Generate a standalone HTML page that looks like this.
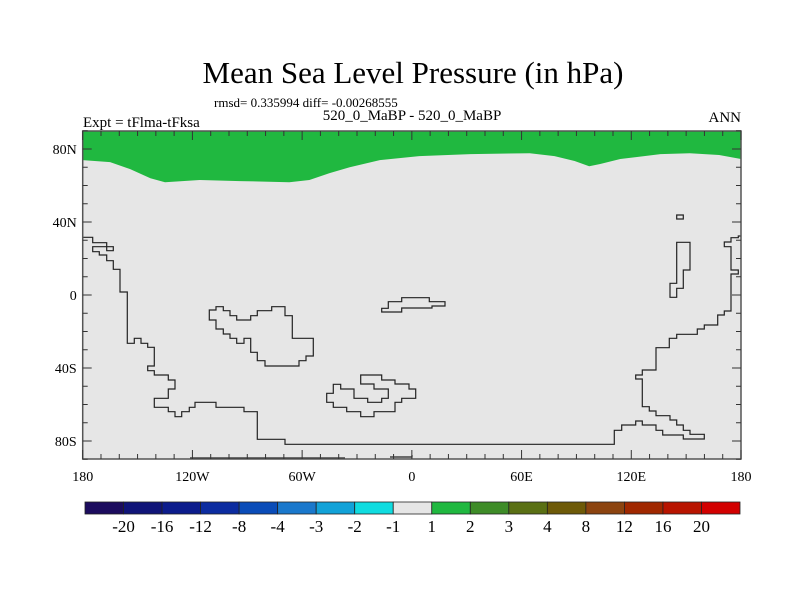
<!DOCTYPE html>
<html><head><meta charset="utf-8"><style>
body{margin:0;background:#fff;}
svg{display:block;font-family:"Liberation Serif",serif;}
</style></head><body>
<svg id="chart" width="800" height="600" viewBox="0 0 800 600">
<text x="413" y="83" font-size="31" text-anchor="middle">Mean Sea Level Pressure (in hPa)</text>
<text x="214" y="107" font-size="13">rmsd= 0.335994 diff= -0.00268555</text>
<text x="412" y="120" font-size="15" text-anchor="middle">520_0_MaBP - 520_0_MaBP</text>
<text x="83" y="127" font-size="15">Expt = tFlma-tFksa</text>
<text x="741" y="122" font-size="15" text-anchor="end">ANN</text>
<g id="map"></g>
<g id="cbar"></g>
</svg>
<script>
const lonPts=[-180,-165,-154,-143,-135,-116,-94,-67,-56,-45,-34,-17.5,4,32,64.5,78,89,97,103,114,136,152,168,180];
const latPts=[73.9,72.8,69,64,61.8,63,62.4,61.8,63,66.8,70,73.9,76.1,77.2,77.7,76.1,73.4,70.6,71.8,74.5,77.2,77.7,76.7,74.5];
const latTicks=[80,40,0,-40,-80];
const latLabels=["80N","40N","0","40S","80S"];
const lonTicks=[-180,-120,-60,0,60,120,180];
const lonLabels=["180","120W","60W","0","60E","120E","180"];
const cbColors=["#1c0c5e","#101478","#0c1c8c","#0c2ca0","#0a4cb8","#1a78cc","#12a2d8","#10dce0","#e6e6e6","#20b840","#3e8c28","#5a7014","#6e5a08","#8c4410","#a02800","#b81400","#d20000"];
const cbLabels=["-20","-16","-12","-8","-4","-3","-2","-1","1","2","3","4","8","12","16","20"];

const NS="http://www.w3.org/2000/svg";
const L=82.7,R=741,T=131,B=459;
const xS=lon=>L+(lon+180)/360*(R-L);
const yS=lat=>295-lat*1.825;
function mk(tag,attrs,parent){const e=document.createElementNS(NS,tag);for(const k in attrs)e.setAttribute(k,attrs[k]);parent.appendChild(e);return e;}
const map=document.getElementById('map');
mk('rect',{x:L,y:T,width:R-L,height:B-T,fill:'#e6e6e6'},map);
let d=`M${L},${T} `;
lonPts.forEach((lo,i)=>{d+=`L${xS(lo).toFixed(1)},${yS(latPts[i]).toFixed(1)} `;});
d+=`L${R},${T} Z`;
const g=mk('path',{d:d,fill:'#20b840'},map);


const coasts=[
"M82.7,237.3 H92.7 V242.7 H106.7 V250.7 H113.3 V246.7 H92.7 V251.7 H99.3 V255 H106.7 V260.7 H113.3 V269.3 H120 V292 H127.3 V343.3 H134.3 V338.3 H141 V343.3 H147.7 V347.3 H154.3 V366 H147.7 V370.7 H154.3 V375 H168.3 V380 H175 V389 H168.3 V398.3 H154.3 V407.3 H168.3 V411.7 H175 V416.7 H181.7 V411.7 H189.3 V407.3 H195 V402.3 H216 V407.3 H244 V411.7 H257.3 V439.3 H285 V444.3 H614.3 V430.3 H621.7 V425 H635.7 V421 H642.3 V425 H656 V430.3 H662.7 V435 H683.3 V439 H704.3 V434.3 H690 V430.3 H683.3 V425 H676.7 V420 H670 V415.7 H656 V411 H649.3 V406.7 H642.3 V379 H635.7 V375 H642.3 V370 H656 V347.7 H669.3 V338.3 H676.7 V334.3 H697.3 V329 H704.3 V325 H717.7 V315 H724.3 V311 H731 V274 H738.3 V270 H731 V246.7 H724.3 V242 H731 V237.7 H738.3 V236 H741",
"M676.7,242.3 H690 V270 H683.3 V288.3 H676.7 V297.3 H670 V283.3 H676.7 Z",
"M676.7,215 H683.3 V219 H676.7 Z",
"M209.3,310 H216 V306.7 H223.3 V310.7 H230 V315.7 H236.7 V320 H250.7 V315.7 H257.3 V310.7 H271.7 V306.7 H285 V315.7 H292.3 V338.3 H313.3 V356 H306 V360.7 H299 V366 H265 V360.7 H257.3 V352.3 H250.7 V338.3 H244 V343.3 H236.7 V338.3 H230 V334 H223.3 V329 H216 V320 H209.3 Z",
"M381.7,308.3 H388.3 V301.7 H401.7 V297.7 H429.3 V301.7 H445 V306 H432 V308 H401.7 V312 H388.3 V312 H381.7 Z",
"M326.7,393.3 H333.3 V384.3 H340.7 V389 H354 V398.3 H367.7 V402.3 H381.7 V398.3 H388.3 V389 H374 V384 H360.7 V375 H381.7 V380 H395 V384 H409 V389 H415.7 V398.3 H401.7 V402.3 H395 V411.7 H374 V416.7 H360.7 V411.7 H346.7 V407.3 H333.3 V402.3 H326.7 Z",
"M190,458 H345 M390,457 H412 V455 H412"];
coasts.forEach(c=>{const p=mk('path',{d:c,fill:'none',stroke:'#222','stroke-width':1.2},map);});
mk('rect',{x:L,y:T,width:R-L,height:B-T,fill:'none',stroke:'#555','stroke-width':1.5},map);
for(let lat=-90;lat<=90;lat+=10){const y=yS(lat);const len=lat%40===0?9:5;
 mk('line',{x1:L,y1:y,x2:L+len,y2:y,stroke:'#333'},map);mk('line',{x1:R,y1:y,x2:R-len,y2:y,stroke:'#333'},map);}
for(let lon=-180;lon<=180;lon+=10){const x=xS(lon);const len=lon%60===0?9:5;
 mk('line',{x1:x,y1:B,x2:x,y2:B-len,stroke:'#333'},map);mk('line',{x1:x,y1:T,x2:x,y2:T+len,stroke:'#333'},map);}
latTicks.forEach((lat,i)=>{const t=mk('text',{x:L-6,y:yS(lat)+5,'font-size':14,'text-anchor':'end'},map);t.textContent=latLabels[i];
 
 });
lonTicks.forEach((lon,i)=>{const t=mk('text',{x:xS(lon),y:481,'font-size':14,'text-anchor':'middle'},map);t.textContent=lonLabels[i];
 
 });
const cb=document.getElementById('cbar');const cx0=85,cx1=740,cy=502,ch=12;const bw=(cx1-cx0)/cbColors.length;
cbColors.forEach((c,i)=>{const r=mk('rect',{x:cx0+i*bw,y:cy,width:bw,height:ch,fill:c,stroke:'#222','stroke-width':0.8},cb);
 
 });
cbLabels.forEach((s,i)=>{const t=mk('text',{x:cx0+(i+1)*bw,y:532,'font-size':17,'text-anchor':'middle'},cb);t.textContent=s;
 
 });
</script>
</body></html>
